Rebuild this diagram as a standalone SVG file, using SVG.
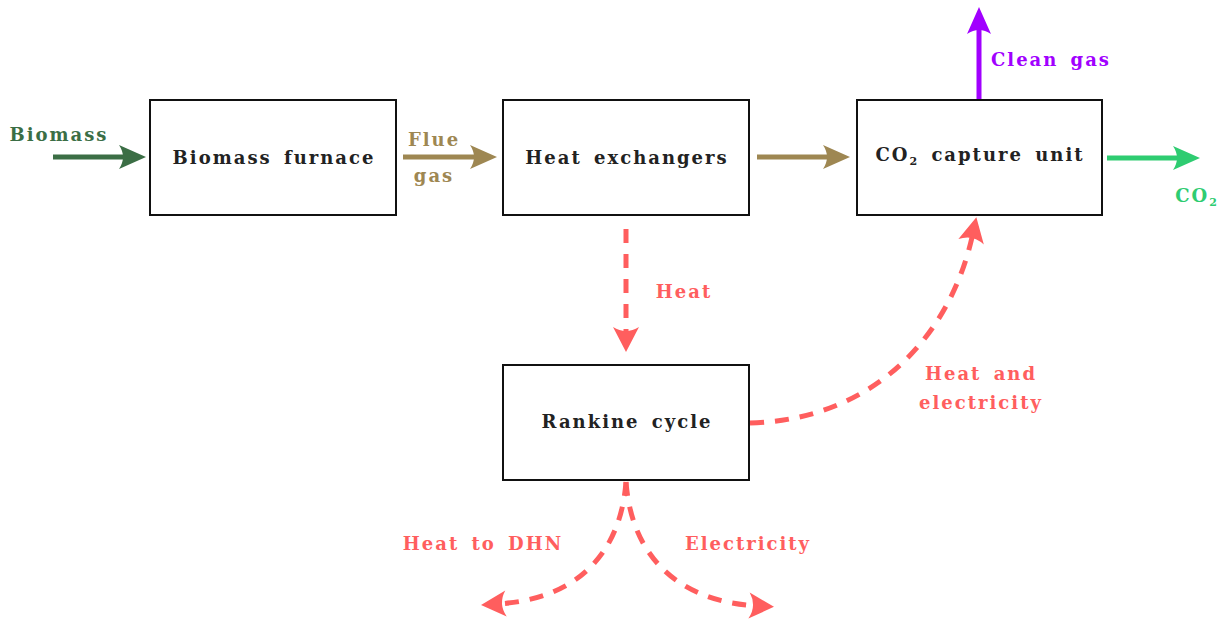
<svg xmlns="http://www.w3.org/2000/svg" width="1222" height="620" viewBox="0 0 1222 620">
<style>
text{font-family:"DejaVu Serif","Liberation Serif",serif;font-weight:bold;font-size:18px;letter-spacing:2px;word-spacing:4px}
.box{fill:#fff;stroke:#111;stroke-width:2}
.lbl{fill:#222;text-anchor:middle}
.flow{fill:none;stroke-width:5}
.dash{fill:none;stroke:#ff5e5e;stroke-width:5;stroke-dasharray:14 11}
</style>
<defs>
<marker id="hGreen" viewBox="-2 -14 32 28" refX="10" refY="0" markerWidth="32" markerHeight="28" markerUnits="userSpaceOnUse" orient="auto"><path d="M27,0 L0,-12 Q8,0 0,12 Z" fill="#3b6e45"/></marker>
<marker id="hBrown" viewBox="-2 -14 32 28" refX="10" refY="0" markerWidth="32" markerHeight="28" markerUnits="userSpaceOnUse" orient="auto"><path d="M27,0 L0,-12 Q8,0 0,12 Z" fill="#9e8752"/></marker>
<marker id="hPurple" viewBox="-2 -14 32 28" refX="10" refY="0" markerWidth="32" markerHeight="28" markerUnits="userSpaceOnUse" orient="auto"><path d="M27,0 L0,-12 Q8,0 0,12 Z" fill="#a100ff"/></marker>
<marker id="hLime" viewBox="-2 -14 32 28" refX="10" refY="0" markerWidth="32" markerHeight="28" markerUnits="userSpaceOnUse" orient="auto"><path d="M27,0 L0,-12 Q8,0 0,12 Z" fill="#2ecc71"/></marker>
<marker id="hRed" viewBox="-2 -15 30 30" refX="9" refY="0" markerWidth="30" markerHeight="30" markerUnits="userSpaceOnUse" orient="auto"><path d="M25,0 L0,-13 Q8,0 0,13 Z" fill="#ff5e5e"/></marker>
</defs>

<g id="connectors">
<path class="flow" stroke="#3b6e45" d="M53,157 L129,157" marker-end="url(#hGreen)"/>
<text x="59" y="141" fill="#3b6e45" text-anchor="middle">Biomass</text>
<path class="flow" stroke="#9e8752" d="M403,157 L480,157" marker-end="url(#hBrown)"/>
<text x="434" y="146" fill="#9e8752" text-anchor="middle">Flue</text>
<text x="434" y="182" fill="#9e8752" text-anchor="middle">gas</text>
<path class="flow" stroke="#9e8752" d="M757,157 L833,157" marker-end="url(#hBrown)"/>
<path class="flow" stroke="#a100ff" d="M979,100 L979,24" marker-end="url(#hPurple)"/>
<text x="1051" y="66" fill="#a100ff" text-anchor="middle">Clean gas</text>
<path class="flow" stroke="#2ecc71" d="M1107,158 L1183,158" marker-end="url(#hLime)"/>
<text x="1197" y="202" fill="#2ecc71" text-anchor="middle">CO<tspan font-size="11" dy="4">2</tspan></text>
<path class="dash" d="M626,229 L626,336" marker-end="url(#hRed)"/>
<text x="684" y="298" fill="#ff5e5e" text-anchor="middle">Heat</text>
<path class="dash" d="M750,423 C870,420 950,340 973,233" marker-end="url(#hRed)"/>
<text x="981" y="380" fill="#ff5e5e" text-anchor="middle">Heat and</text>
<text x="981" y="409" fill="#ff5e5e" text-anchor="middle">electricity</text>
<path class="dash" d="M626,482 C620,560 570,600 497,604" marker-end="url(#hRed)"/>
<path class="dash" d="M626,482 C632,560 682,602 758,606" marker-end="url(#hRed)"/>
<text x="483" y="550" fill="#ff5e5e" text-anchor="middle">Heat to DHN</text>
<text x="748" y="550" fill="#ff5e5e" text-anchor="middle">Electricity</text>
</g>

<g id="biomass-furnace"><rect class="box" x="150" y="100" width="246" height="115"/><text class="lbl" x="274" y="164">Biomass furnace</text></g>
<g id="heat-exchangers"><rect class="box" x="503" y="100" width="246" height="115"/><text class="lbl" x="627" y="164">Heat exchangers</text></g>
<g id="co2-capture"><rect class="box" x="857" y="100" width="245" height="115"/><text class="lbl" x="980" y="161">CO<tspan font-size="11" dy="4">2</tspan><tspan dy="-4"> capture unit</tspan></text></g>
<g id="rankine-cycle"><rect class="box" x="503" y="365" width="246" height="115"/><text class="lbl" x="627" y="428">Rankine cycle</text></g>
</svg>
